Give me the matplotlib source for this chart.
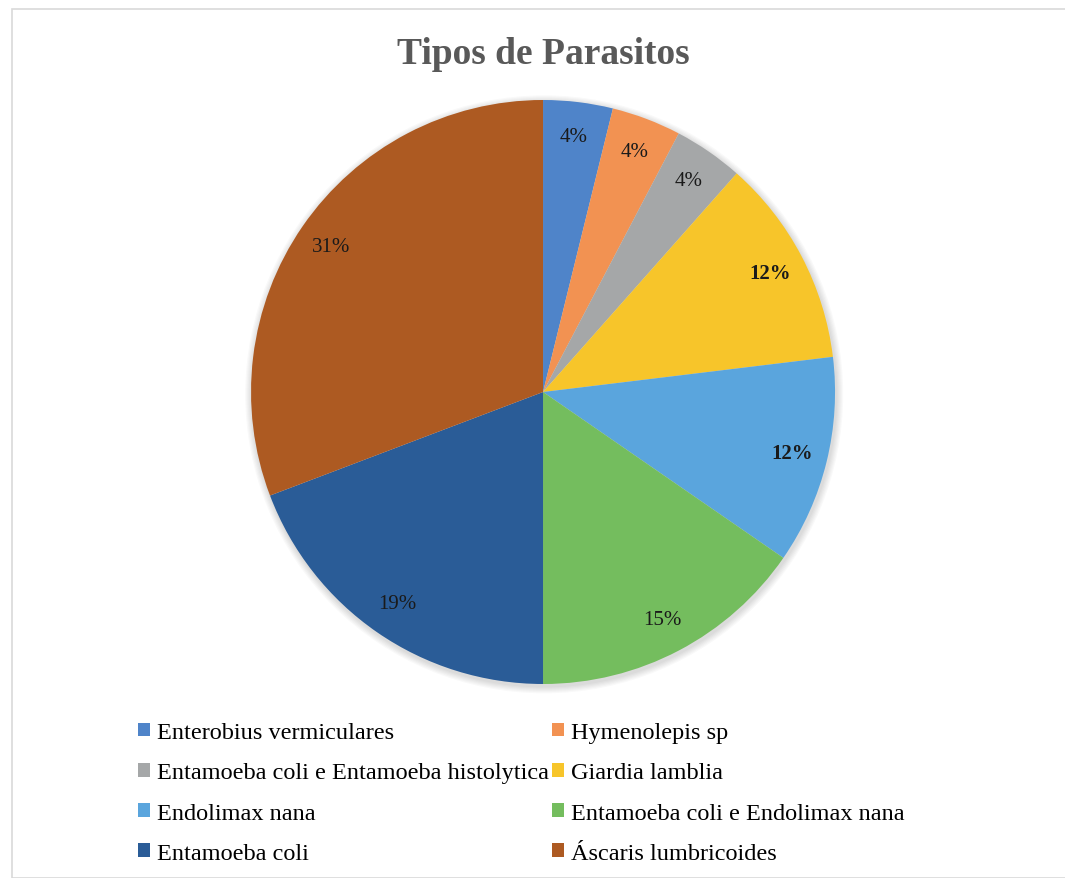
import matplotlib.pyplot as plt
from matplotlib.patches import Rectangle, Patch, Circle

# Tipos de parasitos (número de casos)
parasitos = ['Enterobius vermiculares', 'Hymenolepis sp',
             'Entamoeba coli e Entamoeba histolytica', 'Giardia lamblia',
             'Endolimax nana', 'Entamoeba coli e Endolimax nana',
             'Entamoeba coli', 'Áscaris lumbricoides']
casos = [1, 1, 1, 3, 3, 4, 5, 8]
cores = ['#4F84C9', '#F29252', '#A5A7A8', '#F7C52A',
         '#5AA5DD', '#74BD5E', '#2A5C97', '#AD5A22']
negrito = [False, False, False, True, True, False, False, False]

plt.rcParams['font.family'] = ['Liberation Serif', 'DejaVu Serif']

fig = plt.figure(figsize=(10.65, 8.79), dpi=100)

# moldura cinza clara do gráfico
fig.patches.append(Rectangle((12 / 1065, 0), 1.0, 869 / 879, transform=fig.transFigure,
                             facecolor='none', edgecolor='#D9D9D9', linewidth=1.2,
                             zorder=-1))

ax = fig.add_axes([0.2357, 0.2207, 0.5484, 0.6644])

# sombra suave atrás da pizza
for k in range(6):
    ax.add_patch(Circle((0.004, -0.008), 1.0 + 0.004 * (k + 1), facecolor='black',
                        edgecolor='none', alpha=0.025, zorder=0, clip_on=False))

wedges, texts, autotexts = ax.pie(casos, colors=cores, startangle=90, counterclock=False,
                                  autopct='%1.0f%%', pctdistance=0.88, radius=1,
                                  wedgeprops=dict(linewidth=0, zorder=1))
for t, b in zip(autotexts, negrito):
    t.set_fontsize(15)
    t.set_color('#1A1A1A')
    t.set_zorder(3)
    if b:
        t.set_fontweight('bold')
ax.set_xlim(-1, 1)
ax.set_ylim(-1, 1)
ax.set_aspect('equal')
ax.axis('off')

fig.text(0.51, 0.938, 'Tipos de Parasitos', ha='center', va='center',
         fontsize=27, fontweight='bold', color='#595959')

# legenda em duas colunas, preenchida por linhas
ordem = [0, 2, 4, 6, 1, 3, 5, 7]
handles = [Patch(facecolor=cores[i], edgecolor='none') for i in ordem]
labels = [parasitos[i] for i in ordem]
fig.legend(handles, labels, ncol=2, loc='upper left', bbox_to_anchor=(0.1295, 0.1773),
           frameon=False, fontsize=17.5, handlelength=0.5, handleheight=0.5,
           handletextpad=0.3, columnspacing=0.1, labelspacing=0.79,
           borderaxespad=0, borderpad=0)

plt.savefig('out.png', dpi=100)
